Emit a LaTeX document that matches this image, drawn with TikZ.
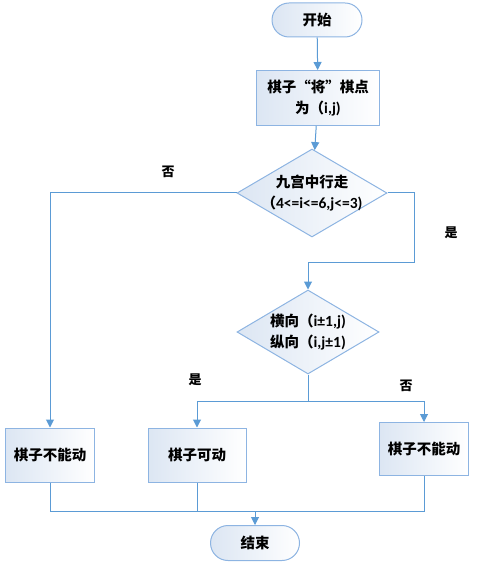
\documentclass[tikz,border=0pt]{standalone}
\usepackage{fontspec}
\setmainfont{Noto Sans CJK SC}
\newfontfamily\latn{Carlito}
\usetikzlibrary{arrows.meta}
\usetikzlibrary{shapes}

\definecolor{linec}{RGB}{91,155,213}
\definecolor{boxc}{RGB}{141,180,226}
\definecolor{fillc}{RGB}{220,230,243}

\begin{document}
\begin{tikzpicture}[x = 1pt, y = -1pt]
\tikzstyle{Base}=[draw = boxc, line width = 1pt,
                  left color = fillc, right color = white,
                  font = \fontsize{14.5}{21}\selectfont\bfseries,
                  align = center, inner sep = 0pt]
\tikzstyle{Term}=[Base, rounded rectangle, minimum width = 90pt, minimum height = 34pt]
\tikzstyle{Proc}=[Base, rectangle, minimum height = 55pt]
\tikzstyle{Dec}=[Base, diamond, shape aspect = 1.7, inner sep = -7pt,
                 minimum width = 150pt, minimum height = 88pt]
\tikzstyle{Link}=[draw = linec, line width = 1pt]
\tikzstyle{Arr}=[Link, -{Triangle[length = 8pt, width = 8pt]}]
\tikzstyle{Lbl}=[font = \fontsize{13}{16}\selectfont\bfseries]
\useasboundingbox (0,0) rectangle (477,569);
\node[Term] (start) at (317,20) {开始};
\node[Proc, minimum width = 123pt] (p1) at (318,98) {棋子“将”棋点\\为（{\latn\fontsize{15.5}{21}\selectfont i,j)}};
\node[Dec] (d1) at (312,193) {九宫中行走\\（{\latn\fontsize{15.5}{21}\selectfont 4<=i<=6,j<=3)}};
\node[Dec, minimum width = 142pt, minimum height = 84pt] (d2) at (308,332) {横向（{\latn\fontsize{15.5}{21}\selectfont i±1,j)}\\纵向（{\latn\fontsize{15.5}{21}\selectfont i,j±1)}};
\node[Proc, minimum width = 89pt, minimum height = 54pt] (b1) at (50,455) {棋子不能动};
\node[Proc, minimum width = 98pt, minimum height = 54pt] (b2) at (197,455) {棋子可动};
\node[Proc, minimum width = 89pt, minimum height = 53pt] (b3) at (424,449) {棋子不能动};
\node[Term, minimum width = 89pt, minimum height = 35pt] (stop) at (255,543) {结束};
% labels
\node[Lbl] (no1) at (168,172) {否};
\node[Lbl] (yes1) at (451,233) {是};
\node[Lbl] (yes2) at (195,380) {是};
\node[Lbl] (no2) at (406,386) {否};
% turning points
\coordinate (r1) at (414,262);
\coordinate (s1) at (308,401);
\coordinate (m1) at (255,511);
\draw[Arr] (start) -- (p1);
\draw[Arr] (p1) -- (d1);
\draw[Arr] (d1.west) -| (b1.north);
\draw[Arr] (d1.east) -| (r1) -| (d2.north);
\draw[Link] (d2.south) -- (s1);
\draw[Arr] (s1) -| (b2.north);
\draw[Arr] (s1) -| (b3.north);
\draw[Link] (b1.south) |- (m1);
\draw[Link] (b2.south) |- (m1);
\draw[Link] (b3.south) |- (m1);
\draw[Arr] (m1) -- (stop.north);
\end{tikzpicture}
\end{document}
